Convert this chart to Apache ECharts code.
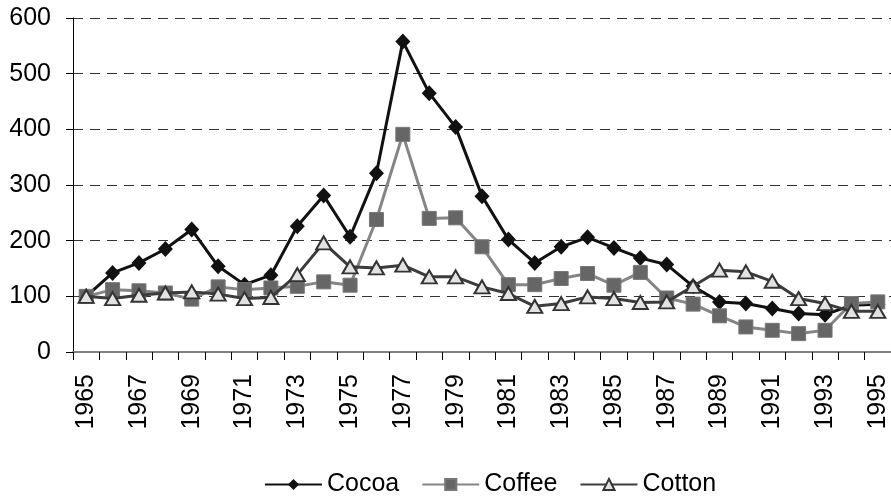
<!DOCTYPE html>
<html>
<head>
<meta charset="utf-8">
<script src="https://cdn.jsdelivr.net/npm/echarts@6/dist/echarts.min.js"></script>
<style>
html,body{margin:0;padding:0;background:#fff;}
#chart{width:891px;height:500px;}
</style>
</head>
<body>
<div id="chart"></div>
<script>
var years = ["1965","1966","1967","1968","1969","1970","1971","1972","1973","1974","1975","1976","1977","1978","1979","1980","1981","1982","1983","1984","1985","1986","1987","1988","1989","1990","1991","1992","1993","1994","1995"];
var cocoa = [100,142,160,185,220,154,121,138,226,281,207,321,558,465,404,280,202,160,189,206,187,169,157,118,90,87,78,69,67,84,86];
var coffee = [100,112,110,106,95,117,112,115,118,126,120,238,391,240,241,189,121,121,132,141,120,143,97,86,65,45,39,33,39,87,90];
var cotton = [100,96,102,106,108,104,96,98,139,196,153,151,156,135,135,117,105,82,87,99,96,89,90,118,147,144,127,96,87,73,73];
var yTicks = [0,100,200,300,400,500,600];

var FONT = 'Arial, "Liberation Sans", sans-serif';
var chart = echarts.init(document.getElementById('chart'));
chart.setOption({
  animation: false,
  backgroundColor: '#ffffff',
  grid: {left: 73, right: -5, top: 18, bottom: 148, containLabel: false},
  legend: {
    bottom: -2,
    left: 259,
    itemWidth: 57,
    itemHeight: 14,
    itemGap: 22,
    textStyle: {fontFamily: FONT, fontSize: 25, color: '#000'},
    data: ['Cocoa','Coffee','Cotton']
  },
  xAxis: {
    type: 'category',
    data: years,
    boundaryGap: true,
    axisLine: {show: true, lineStyle: {color: '#808080', width: 2}},
    axisTick: {show: true, alignWithLabel: false, interval: 0, length: 8, lineStyle: {color: '#000', width: 1}},
    axisLabel: {interval: 1, rotate: 90, margin: 22, fontFamily: FONT, fontSize: 25, color: '#000'},
    splitLine: {show: false}
  },
  yAxis: {
    type: 'value',
    min: yTicks[0],
    max: yTicks[yTicks.length-1],
    interval: 100,
    axisLine: {show: true, lineStyle: {color: '#000', width: 1}},
    axisTick: {show: true, inside: false, length: 7, lineStyle: {color: '#000'}},
    axisLabel: {margin: 22, fontFamily: FONT, fontSize: 25, color: '#000'},
    splitLine: {show: true, lineStyle: {color: '#333', width: 1, type: [10, 7]}}
  },
  series: [
    {
      name: 'Cocoa', type: 'line', data: cocoa,
      symbol: 'diamond', symbolSize: [15, 16],
      lineStyle: {color: '#111', width: 3},
      itemStyle: {color: '#111', borderColor: '#111', borderWidth: 0},
      z: 2
    },
    {
      name: 'Coffee', type: 'line', data: coffee,
      symbol: 'rect', symbolSize: 14,
      lineStyle: {color: '#858585', width: 3},
      itemStyle: {color: '#666', borderColor: '#777', borderWidth: 1},
      z: 3
    },
    {
      name: 'Cotton', type: 'line', data: cotton,
      symbol: 'triangle', symbolSize: [15, 13],
      lineStyle: {color: '#3c3c3c', width: 3},
      itemStyle: {color: '#e2e2e2', borderColor: '#333', borderWidth: 2},
      z: 4
    }
  ]
});
</script>
</body>
</html>
